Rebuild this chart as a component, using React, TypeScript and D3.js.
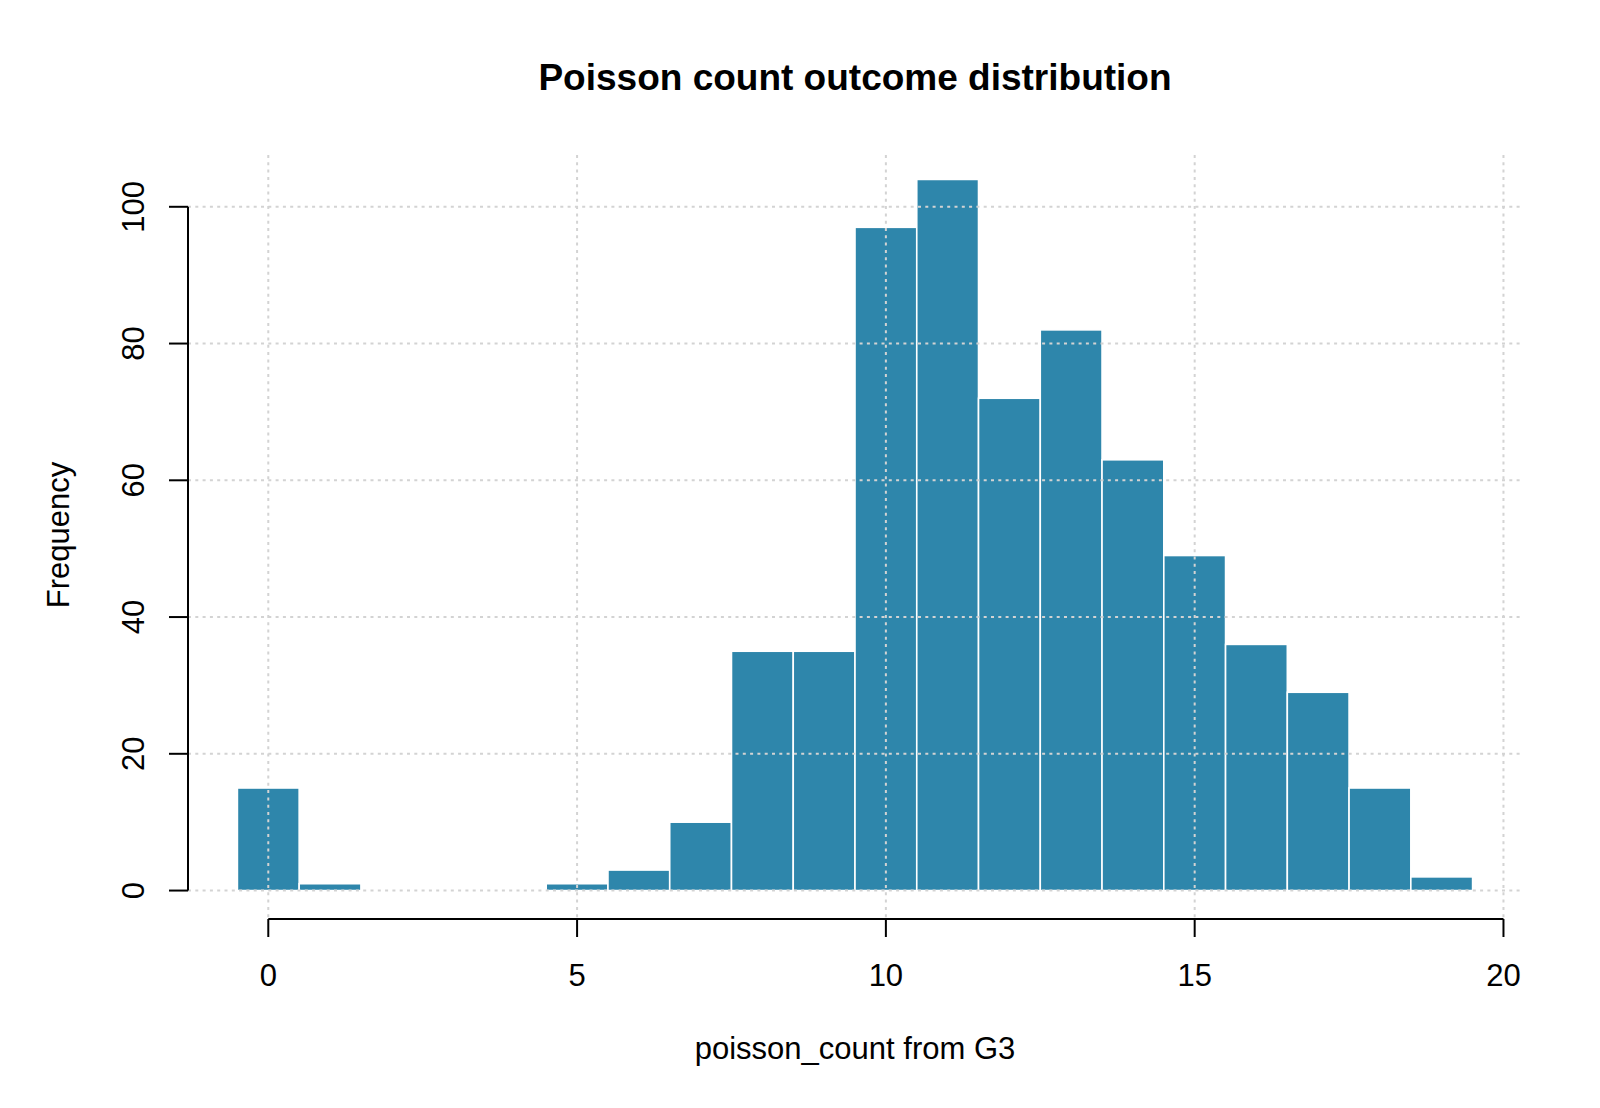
import React from "react";
import * as d3 from "d3";

const binCenters = [0, 1, 2, 3, 4, 5, 6, 7, 8, 9, 10, 11, 12, 13, 14, 15, 16, 17, 18, 19];
const counts = [15, 1, 0, 0, 0, 1, 3, 10, 35, 35, 97, 104, 72, 82, 63, 49, 36, 29, 15, 2];
const xTicks = [0, 5, 10, 15, 20];
const yTicks = [0, 20, 40, 60, 80, 100];
const title = "Poisson count outcome distribution";
const xLabel = "poisson_count from G3";
const yLabel = "Frequency";

const W = 1600;
const H = 1108;
const FONT = "'Liberation Sans', Arial, Helvetica, sans-serif";

export default function App() {
  const x = d3.scaleLinear().domain([-1.3, 20.3]).range([188, 1522]);
  const y = d3.scaleLinear().domain([-4.16, 108.16]).range([919, 151]);
  const [px0, px1] = x.range();
  const [py0] = y.range();
  const gridTop = 155;
  const gridColor = "#d3d3d3";
  const dash = "3 4.3";

  return (
    <svg
      width={W}
      height={H}
      viewBox={`0 0 ${W} ${H}`}
      style={{ position: "absolute", left: 0, top: 0, background: "#fff" }}
    >
      <rect x={0} y={0} width={W} height={H} fill="#fff" />
      {/* bars */}
      {binCenters.map((c, i) =>
        counts[i] > 0 ? (
          <rect
            key={c}
            x={x(c - 0.5)}
            y={y(counts[i])}
            width={x(c + 0.5) - x(c - 0.5)}
            height={y(0) - y(counts[i])}
            fill="#2E86AB"
            stroke="#fff"
            strokeWidth={1.6}
          />
        ) : null
      )}
      {/* grid */}
      {yTicks.map((t) => (
        <line
          key={"gy" + t}
          x1={px0}
          x2={px1}
          y1={y(t)}
          y2={y(t)}
          stroke={gridColor}
          strokeWidth={2}
          strokeDasharray={dash}
        />
      ))}
      {xTicks.map((t) => (
        <line
          key={"gx" + t}
          x1={x(t)}
          x2={x(t)}
          y1={gridTop}
          y2={py0}
          stroke={gridColor}
          strokeWidth={2}
          strokeDasharray={dash}
        />
      ))}
      {/* x axis */}
      <line x1={x(xTicks[0])} x2={x(xTicks[xTicks.length - 1])} y1={py0} y2={py0} stroke="#000" strokeWidth={2} />
      {xTicks.map((t) => (
        <g key={"xt" + t}>
          <line x1={x(t)} x2={x(t)} y1={py0} y2={py0 + 18} stroke="#000" strokeWidth={2} />
          <text x={x(t)} y={py0 + 67} textAnchor="middle" fontFamily={FONT} fontSize={31}>
            {t}
          </text>
        </g>
      ))}
      {/* y axis */}
      <line x1={px0} x2={px0} y1={y(yTicks[0])} y2={y(yTicks[yTicks.length - 1])} stroke="#000" strokeWidth={2} />
      {yTicks.map((t) => (
        <g key={"yt" + t}>
          <line x1={px0} x2={px0 - 19} y1={y(t)} y2={y(t)} stroke="#000" strokeWidth={2} />
          <text
            transform={`translate(${px0 - 44},${y(t)}) rotate(-90)`}
            textAnchor="middle"
            fontFamily={FONT}
            fontSize={31}
          >
            {t}
          </text>
        </g>
      ))}
      {/* titles */}
      <text x={(px0 + px1) / 2} y={90} textAnchor="middle" fontFamily={FONT} fontSize={37} fontWeight="bold">
        {title}
      </text>
      <text x={(px0 + px1) / 2} y={1059} textAnchor="middle" fontFamily={FONT} fontSize={31}>
        {xLabel}
      </text>
      <text
        transform={`translate(69,${(py0 + 151) / 2}) rotate(-90)`}
        textAnchor="middle"
        fontFamily={FONT}
        fontSize={31}
      >
        {yLabel}
      </text>
    </svg>
  );
}
